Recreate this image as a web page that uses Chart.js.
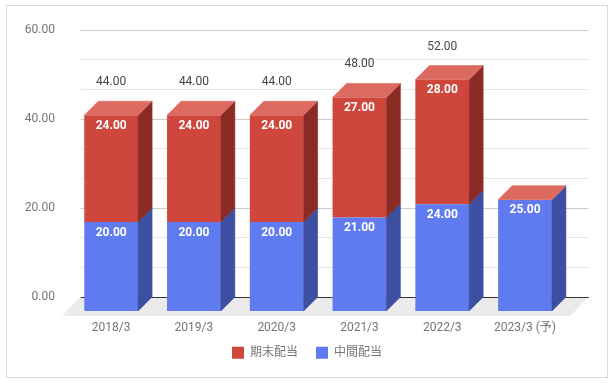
<!DOCTYPE html>
<html><head><meta charset="utf-8">
<script src="https://cdn.jsdelivr.net/npm/chart.js@4"></script>
<style>html,body{margin:0;padding:0;background:#fff;}canvas{display:block;}</style>
</head><body>
<canvas id="c" width="614" height="383"></canvas>
<script>
// ---- data ----
const categories = ['2018/3', '2019/3', '2020/3', '2021/3', '2022/3', '2023/3 (予)'];
const interimDividend = [20, 20, 20, 21, 24, 25];   // 中間配当
const yearEndDividend = [24, 24, 24, 27, 28, 0];    // 期末配当
const seriesNames = ['中間配当', '期末配当'];
const yAxis = { min: 0, max: 60, step: 20 };

// ---- styles ----
const FONT = "Roboto, 'Noto Sans CJK JP', sans-serif";
const faces = [
  { front: '#607af0', side: '#3c4fa1', top: '#8698f4' },
  { front: '#cf463c', side: '#8a2b26', top: '#dc6a60' }
];
const D = 14;            // bar depth (px)
const FLOOR_DX = -18.5, FLOOR_DY = 19;
const LEGEND_SHIFT = -8.3;

Chart.defaults.font.family = FONT;
Chart.defaults.font.size = 12;

function hline(ctx, x1, x2, py, color) {
  const yy = Math.floor(py) + 0.5;
  ctx.strokeStyle = color; ctx.lineWidth = 1;
  ctx.beginPath(); ctx.moveTo(x1, yy); ctx.lineTo(x2, yy); ctx.stroke();
}
function poly(ctx, pts, color) {
  ctx.fillStyle = color; ctx.strokeStyle = color; ctx.lineWidth = 0.6;
  ctx.beginPath(); ctx.moveTo(pts[0][0], pts[0][1]);
  for (let i = 1; i < pts.length; i++) ctx.lineTo(pts[i][0], pts[i][1]);
  ctx.closePath(); ctx.fill(); ctx.stroke();
}

const plugin3d = {
  id: 'bars3d',
  afterLayout(chart) {
    const lg = chart.legend;
    if (lg) { lg.top += LEGEND_SHIFT; lg.bottom += LEGEND_SHIFT; }
  },
  beforeDraw(chart) {
    const { ctx, chartArea: a, scales: { y } } = chart;
    const L = a.left - 3.3, R = a.right + 8.3;
    ctx.save();
    const tv = y.ticks.map(t => t.value);
    for (let i = 0; i < tv.length; i++) {
      if (i < tv.length - 1) {
        const st = (tv[i + 1] - tv[i]) / 3;
        for (let k = 1; k < 3; k++) hline(ctx, L, R, y.getPixelForValue(tv[i] + k * st), '#e8e8e8');
      }
      if (tv[i] !== 0) hline(ctx, L, R, y.getPixelForValue(tv[i]), '#cccccc');
    }
    const yb = y.getPixelForValue(0);
    ctx.fillStyle = '#ebebeb';
    ctx.beginPath();
    ctx.moveTo(L, yb); ctx.lineTo(R, yb);
    ctx.lineTo(R + FLOOR_DX, yb + FLOOR_DY); ctx.lineTo(L + FLOOR_DX, yb + FLOOR_DY);
    ctx.closePath(); ctx.fill();
    hline(ctx, L, R, yb, '#333333');
    ctx.restore();
  },
  beforeDatasetsDraw(chart) {
    chart.ctx.save();
    chart.ctx.translate(-D, D);
  },
  afterDatasetsDraw(chart) {
    const { ctx } = chart;
    ctx.restore();
    ctx.save();
    const metas = chart.getSortedVisibleDatasetMetas();
    const geo = (bar) => {
      const p = bar.getProps(['x', 'y', 'base', 'width'], true);
      return { x: p.x, l: p.x - p.width / 2, r: p.x + p.width / 2, t: Math.min(p.y, p.base), b: Math.max(p.y, p.base) };
    };
    metas.forEach(meta => {
      const c = faces[meta.index];
      meta.data.forEach(bar => {
        const g = geo(bar);
        if (g.b - g.t > 0.01) poly(ctx, [[g.r - D, g.t + D], [g.r, g.t], [g.r, g.b], [g.r - D, g.b + D]], c.side);
      });
    });
    const topMeta = metas[metas.length - 1];
    topMeta.data.forEach(bar => {
      const g = geo(bar);
      poly(ctx, [[g.l - D, g.t + D], [g.l, g.t], [g.r, g.t], [g.r - D, g.t + D]], faces[topMeta.index].top);
    });
    ctx.textAlign = 'center'; ctx.textBaseline = 'middle';
    ctx.font = 'bold 12px ' + FONT; ctx.fillStyle = '#ffffff';
    metas.forEach(meta => {
      const data = chart.data.datasets[meta.index].data;
      meta.data.forEach((bar, i) => {
        if (!(data[i] > 0)) return;
        const g = geo(bar);
        ctx.fillText(data[i].toFixed(2), g.x - D, g.t + D + 10.5);
      });
    });
    ctx.font = '12px ' + FONT; ctx.fillStyle = '#444444';
    topMeta.data.forEach((bar, i) => {
      if (!(yearEndDividend[i] > 0)) return;
      const g = geo(bar);
      ctx.fillText((interimDividend[i] + yearEndDividend[i]).toFixed(2), g.x - D, g.t - 19);
    });
    ctx.restore();
  },
  afterDraw(chart) {
    const { ctx } = chart;
    ctx.save();
    ctx.strokeStyle = '#d9d9d9'; ctx.lineWidth = 1;
    ctx.strokeRect(6.5, 5.5, 601, 372);
    ctx.restore();
  }
};

new Chart(document.getElementById('c'), {
  type: 'bar',
  data: {
    labels: categories,
    datasets: [
      { label: seriesNames[0], data: interimDividend, backgroundColor: faces[0].front, borderColor: faces[0].front, borderWidth: 0, clip: false },
      { label: seriesNames[1], data: yearEndDividend, backgroundColor: faces[1].front, borderColor: faces[1].front, borderWidth: 0, clip: false }
    ]
  },
  options: {
    responsive: false,
    animation: false,
    devicePixelRatio: 1,
    barPercentage: 0.65,
    categoryPercentage: 1,
    layout: { padding: { top: 30, bottom: 6, left: 0, right: 0 } },
    plugins: {
      legend: {
        position: 'bottom',
        reverse: true,
        labels: { boxWidth: 12, boxHeight: 12, padding: 18, color: '#757575', font: { size: 12, family: FONT } }
      },
      tooltip: { enabled: false }
    },
    scales: {
      x: {
        stacked: true,
        grid: { display: false, drawTicks: false },
        border: { display: false },
        ticks: { color: '#757575', padding: 24, labelOffset: -D, font: { size: 12 } },
        afterFit: s => { s.height = 40; }
      },
      y: {
        stacked: true,
        min: yAxis.min, max: yAxis.max,
        grid: { display: false, drawTicks: false },
        border: { display: false },
        ticks: { stepSize: yAxis.step, padding: 28.8, color: '#757575', font: { size: 12 }, callback: v => Number(v).toFixed(2) },
        afterFit: s => { s.width = 83.8; s.paddingTop = 7; s.paddingBottom = 7; }
      },
      yR: {
        type: 'linear', position: 'right', display: true,
        grid: { display: false, drawTicks: false }, border: { display: false },
        ticks: { display: false },
        afterFit: s => { s.width = 33.6; }
      }
    }
  },
  plugins: [plugin3d]
});
</script>
</body></html>
